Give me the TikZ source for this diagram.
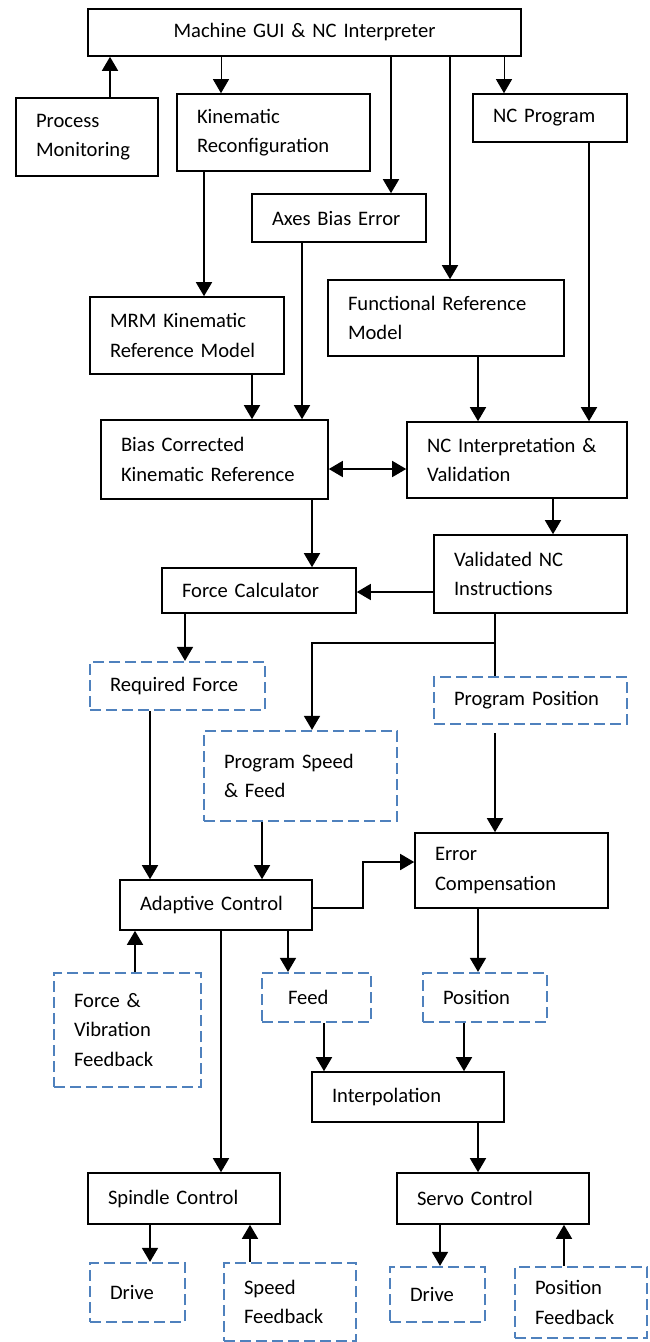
\documentclass[tikz,border=0pt]{standalone}
\usepackage{fontspec}
\setmainfont{Carlito}
\usepackage{xcolor}
\usepackage{tikz}
\usetikzlibrary{arrows.meta,calc}
\definecolor{ink}{HTML}{000000}
\definecolor{dashblue}{HTML}{4F81BD}
\tikzset{
  blk/.style={draw=ink, line width=1.6pt, align=left, inner xsep=20pt, inner ysep=0pt,
              font=\fontsize{20.6}{29.5}\selectfont},
  dbox/.style={blk, draw=dashblue, line width=2.2pt, dash pattern=on 11pt off 5pt},
  sz/.style 2 args={minimum width=#1pt, text width=#1pt-40pt, minimum height=#2pt},
  ar/.style={-{Triangle[length=14pt,width=16pt]}, line width=1.6pt, draw=ink},
  arthin/.style={ar, line width=0.9pt},
  ln/.style={line width=1.6pt, draw=ink},
  dar/.style={{Triangle[length=14pt,width=16pt]}-{Triangle[length=14pt,width=16pt]}, line width=1.6pt},
}
\begin{document}
\begin{tikzpicture}[x=1pt, y=-1pt]
\useasboundingbox (0,0) rectangle (649,1342);
\node[blk, sz={433}{47}, align=center] (gui) at (304.5,32.5) {Machine GUI \& NC Interpreter};
\node[blk, sz={142}{78}] (procmon) at (87,137) {Process\\Monitoring};
\node[blk, sz={193}{77}] (kinrec) at (273.5,132.5) {Kinematic\\Reconfiguration};
\node[blk, sz={154}{48}] (ncprog) at (550,118) {NC Program};
\node[blk, sz={174}{48}] (axbias) at (339,218) {Axes Bias Error};
\node[blk, sz={194}{77}] (mrm) at (187,335.5) {MRM Kinematic\\Reference Model};
\node[blk, sz={236}{76}] (funref) at (446,318) {Functional Reference\\Model};
\node[blk, sz={227}{79}] (biascor) at (214.5,459.5) {Bias Corrected\\Kinematic Reference};
\node[blk, sz={220}{76}] (ncival) at (517,460) {NC Interpretation \&\\Validation};
\node[blk, sz={193}{78}] (valnc) at (530.5,574) {Validated NC\\Instructions};
\node[blk, sz={194}{45}] (forcecalc) at (259,590.5) {Force Calculator};
\node[dbox, sz={175}{48}] (reqforce) at (177.5,686) {Required Force};
\node[dbox, sz={193}{47}] (progpos) at (530.5,700.5) {Program Position};
\node[dbox, sz={193}{90}] (progspeed) at (300.5,776) {Program Speed\\\& Feed};
\node[blk, sz={193}{75}] (errcomp) at (511.5,870.5) {Error\\Compensation};
\node[blk, sz={192}{50}] (adaptive) at (216,905) {Adaptive Control};
\node[dbox, sz={147}{114}] (fvfb) at (127.5,1030) {Force \&\\Vibration\\Feedback};
\node[dbox, sz={109}{49}, inner xsep=26pt, text width=57pt] (feed) at (316.5,997.5) {Feed};
\node[dbox, sz={124}{49}] (position) at (485,997.5) {Position};
\node[blk, sz={192}{50}] (interp) at (408,1097) {Interpolation};
\node[blk, sz={192}{51}] (spindle) at (184,1198.5) {Spindle Control};
\node[blk, sz={192}{51}] (servo) at (493,1198.5) {Servo Control};
\node[dbox, sz={95}{59}] (drivea) at (137.5,1292.5) {Drive};
\node[dbox, sz={132}{78}] (speedfb) at (290,1302) {Speed\\Feedback};
\node[dbox, sz={95}{55}] (driveb) at (437.5,1294.5) {Drive};
\node[dbox, sz={132}{71}] (posfb) at (581,1302.5) {Position\\Feedback};

\draw[ar] ([xshift=23pt]procmon.north) -- ([xshift=23pt]procmon.north |- gui.south);
\draw[arthin] ([xshift=-52.5pt]kinrec.north |- gui.south) -- ([xshift=-52.5pt]kinrec.north);
\draw[ar] ([xshift=52pt]axbias.north |- gui.south) -- ([xshift=52pt]axbias.north);
\draw[ar] ([xshift=4pt]funref.north |- gui.south) -- ([xshift=4pt]funref.north);
\draw[arthin] ([xshift=-46pt]ncprog.north |- gui.south) -- ([xshift=-46pt]ncprog.north);
\draw[ar] ([xshift=-69.5pt]kinrec.south) -- ([xshift=-69.5pt]kinrec.south |- mrm.north);
\draw[ar] ([xshift=-37pt]axbias.south) -- ([xshift=-37pt]axbias.south |- biascor.north);
\draw[ar] ([xshift=65pt]mrm.south) -- ([xshift=65pt]mrm.south |- biascor.north);
\draw[ar] ([xshift=32pt]funref.south) -- ([xshift=32pt]funref.south |- ncival.north);
\draw[ar] ([xshift=39pt]ncprog.south) -- ([xshift=39pt]ncprog.south |- ncival.north);
\draw[dar] ([yshift=-9.5pt]biascor.east) -- ([yshift=-9.5pt]biascor.east -| ncival.west);
\draw[ar] ([xshift=36pt]ncival.south) -- ([xshift=36pt]ncival.south |- valnc.north);
\draw[ar] ([xshift=97.5pt]biascor.south) -- ([xshift=97.5pt]biascor.south |- forcecalc.north);
\draw[ar] ([yshift=-18pt]valnc.west) -- ([yshift=-18pt]valnc.west -| forcecalc.east);
\draw[ar] ([xshift=-74pt]forcecalc.south) -- ([xshift=-74pt]forcecalc.south |- reqforce.north);

\coordinate (split) at ([xshift=-35.5pt, yshift=-29pt]valnc.south);
\draw[ln] ([xshift=-35.5pt]valnc.south) -- (split) -- (split |- progpos.north);
\draw[ar] (split) -| ([xshift=11.5pt]progspeed.north);
\draw[ar] ([xshift=-35.5pt, yshift=-8pt]progpos.south) -- ([xshift=-35.5pt]progpos.south |- errcomp.north);

\draw[ar] ([xshift=-27.5pt]reqforce.south) -- ([xshift=-27.5pt]reqforce.south |- adaptive.north);
\draw[ar] ([xshift=-38.5pt]progspeed.south) -- ([xshift=-38.5pt]progspeed.south |- adaptive.north);
\draw[ar] ([yshift=-3pt]adaptive.east) -- ++(50,0) |- ([yshift=8.5pt]errcomp.west);
\draw[ar] ([xshift=7.5pt]fvfb.north) -- ([xshift=7.5pt]fvfb.north |- adaptive.south);
\draw[ar] ([xshift=72pt]adaptive.south) -- ([xshift=72pt]adaptive.south |- feed.north);
\draw[ar] ([xshift=5pt]adaptive.south) -- ([xshift=5pt]adaptive.south |- spindle.north);
\draw[ar] ([xshift=-33.5pt]errcomp.south) -- ([xshift=-33.5pt]errcomp.south |- position.north);
\draw[ar] ([xshift=7.5pt]feed.south) -- ([xshift=7.5pt]feed.south |- interp.north);
\draw[ar] ([xshift=-21pt]position.south) -- ([xshift=-21pt]position.south |- interp.north);
\draw[ar] ([xshift=70pt]interp.south) -- ([xshift=70pt]interp.south |- servo.north);
\draw[ar] ([xshift=-34pt]spindle.south) -- ([xshift=-34pt]spindle.south |- drivea.north);
\draw[ar] ([xshift=-40pt]speedfb.north) -- ([xshift=-40pt]speedfb.north |- spindle.south);
\draw[ar] ([xshift=-53pt]servo.south) -- ([xshift=-53pt]servo.south |- driveb.north);
\draw[ar] ([xshift=-17pt]posfb.north) -- ([xshift=-17pt]posfb.north |- servo.south);
\end{tikzpicture}
\end{document}
